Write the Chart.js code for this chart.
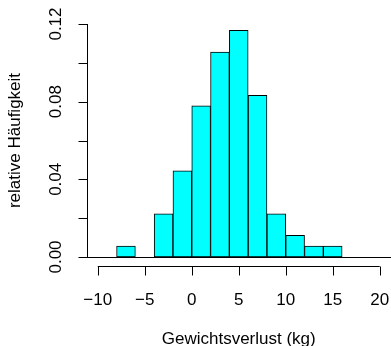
<!DOCTYPE html>
<html>
<head>
<meta charset="utf-8">
<script src="https://cdn.jsdelivr.net/npm/chart.js@4"></script>
<style>
  html, body { margin: 0; padding: 0; background: #fff; }
  canvas { display: block; }
</style>
</head>
<body>
<canvas id="hist" width="391" height="346"></canvas>
<script>
// Klassengrenzen (Breite 2 kg) und relative Häufigkeit (Dichte) je Klasse
const breaks = [-8, -6, -4, -2, 0, 2, 4, 6, 8, 10, 12, 14, 16];
const density = [0.0056, 0, 0.0222, 0.0444, 0.0778, 0.1056, 0.1167, 0.0833, 0.0222, 0.0111, 0.0056, 0.0056];

// Achsenbeschriftung
const xTicks = [-10, -5, 0, 5, 10, 15, 20];
const yTicks = [0, 0.02, 0.04, 0.06, 0.08, 0.10, 0.12];
const yTickLabels = ['0.00', '', '0.04', '', '0.08', '', '0.12'];
const xTitle = 'Gewichtsverlust (kg)';
const yTitle = 'relative Häufigkeit';

const FONT = '17px "Liberation Sans", Arial, sans-serif';

// Balken: Mitte jeder Klasse
const bars = density.map(function (d, i) {
    return { x: (breaks[i] + breaks[i + 1]) / 2, y: d };
});

// R-artige Achsen selbst zeichnen
const rAxes = {
    id: 'rAxes',
    afterDraw: function (chart) {
        const ctx = chart.ctx;
        const xs = chart.scales.x;
        const ys = chart.scales.y;
        const area = chart.chartArea;
        const tick = 9;

        ctx.save();
        ctx.strokeStyle = '#000';
        ctx.lineWidth = 1;
        ctx.fillStyle = '#000';
        ctx.font = FONT;

        // Nulllinie (leere Klassen)
        const y0 = Math.round(ys.getPixelForValue(0)) + 0.5;
        ctx.beginPath();
        ctx.moveTo(area.left, y0);
        ctx.lineTo(area.right, y0);
        ctx.stroke();

        // x-Achse
        const ax = Math.round(area.bottom) + 0.5;
        ctx.beginPath();
        ctx.moveTo(xs.getPixelForValue(xTicks[0]), ax);
        ctx.lineTo(xs.getPixelForValue(xTicks[xTicks.length - 1]), ax);
        xTicks.forEach(function (v) {
            const px = Math.round(xs.getPixelForValue(v)) + 0.5;
            ctx.moveTo(px, ax);
            ctx.lineTo(px, ax + tick);
        });
        ctx.stroke();
        ctx.textAlign = 'center';
        ctx.textBaseline = 'alphabetic';
        xTicks.forEach(function (v) {
            const txt = v < 0 ? '\u2212' + Math.abs(v) : String(v);
            ctx.fillText(txt, xs.getPixelForValue(v), 305);
        });
        ctx.fillText(xTitle, (area.left + area.right) / 2, 344);

        // y-Achse
        const ay = Math.round(area.left) + 0.5;
        ctx.beginPath();
        ctx.moveTo(ay, ys.getPixelForValue(yTicks[0]));
        ctx.lineTo(ay, ys.getPixelForValue(yTicks[yTicks.length - 1]));
        yTicks.forEach(function (v) {
            const py = Math.round(ys.getPixelForValue(v)) + 0.5;
            ctx.moveTo(ay, py);
            ctx.lineTo(ay - tick, py);
        });
        ctx.stroke();
        yTicks.forEach(function (v, i) {
            if (!yTickLabels[i]) return;
            ctx.save();
            ctx.translate(61, ys.getPixelForValue(v));
            ctx.rotate(-Math.PI / 2);
            ctx.fillText(yTickLabels[i], 0, 0);
            ctx.restore();
        });
        ctx.save();
        ctx.translate(20, (area.top + area.bottom) / 2);
        ctx.rotate(-Math.PI / 2);
        ctx.fillText(yTitle, 0, 0);
        ctx.restore();

        ctx.restore();
    }
};

new Chart(document.getElementById('hist').getContext('2d'), {
    type: 'bar',
    data: {
        datasets: [{
            data: bars,
            backgroundColor: '#00ffff',
            borderColor: '#000000',
            borderWidth: 1,
            borderSkipped: false,
            barPercentage: 1,
            categoryPercentage: 1
        }]
    },
    options: {
        responsive: false,
        animation: false,
        devicePixelRatio: 1,
        layout: { padding: { left: 86.5, right: 0, top: 14.7, bottom: 79.7 } },
        plugins: { legend: { display: false }, tooltip: { enabled: false } },
        scales: {
            x: {
                type: 'linear',
                display: false,
                offset: false,
                min: -11.2,
                max: 21.2,
                ticks: { stepSize: 5, includeBounds: false }
            },
            y: {
                display: false,
                min: -0.0048,
                max: 0.1248,
                ticks: { stepSize: 0.02, includeBounds: false }
            }
        }
    },
    plugins: [rAxes]
});
</script>
</body>
</html>
